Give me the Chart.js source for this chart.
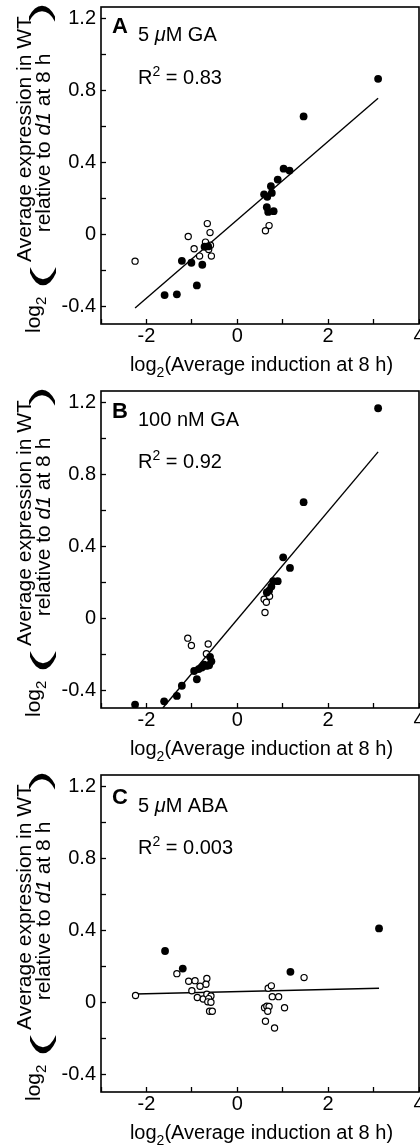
<!DOCTYPE html>
<html>
<head>
<meta charset="utf-8">
<title>log2 expression vs induction</title>
<script src="https://cdn.jsdelivr.net/npm/chart.js@4.4.1/dist/chart.umd.min.js"></script>
<style>
  html, body { margin: 0; padding: 0; background: #fff; overflow: hidden; }
  .panel { width: 420px; height: 384px; }
  canvas { display: block; }
</style>
</head>
<body>
<div class="panel"><canvas id="chart-a" width="420" height="384"></canvas></div>
<div class="panel"><canvas id="chart-b" width="420" height="384"></canvas></div>
<div class="panel"><canvas id="chart-c" width="420" height="384"></canvas></div>
<script>
// values: [log2 induction, log2 WT/d1]
const panelLetters = ['A', 'B', 'C'];
const treatments = ['5 μM GA', '100 nM GA', '5 μM ABA'];
const rSquared = ['0.83', '0.92', '0.003'];
const xTickLabels = ['-2', '0', '2', '4'];
const yTickLabels = ['-0.4', '0', '0.4', '0.8', '1.2'];

const filledA = [[3.10, 0.865], [1.46, 0.656], [1.02, 0.365], [1.15, 0.354], [0.89, 0.304], [0.74, 0.267],
  [0.76, 0.230], [0.59, 0.222], [0.66, 0.208], [0.65, 0.150], [0.68, 0.124], [0.80, 0.128],
  [-0.72, -0.070], [-0.64, -0.068], [-1.22, -0.148], [-1.01, -0.159], [-0.77, -0.170],
  [-0.89, -0.285], [-1.60, -0.339], [-1.33, -0.335]];
const openA = [[0.70, 0.048], [0.62, 0.019], [-0.66, 0.059], [-0.60, 0.009], [-1.08, -0.013], [-0.70, -0.044],
  [-0.59, -0.061], [-0.95, -0.081], [-0.63, -0.085], [-0.83, -0.122], [-0.57, -0.122], [-2.25, -0.150]];
const fitA = [[-2.25, -0.411], [3.10, 0.757]];

const filledB = [[3.10, 1.169], [1.46, 0.646], [1.01, 0.339], [1.16, 0.280], [0.89, 0.206], [0.79, 0.206],
  [0.75, 0.176], [0.70, 0.154], [0.65, 0.143], [-0.60, -0.215], [-0.57, -0.240], [-0.62, -0.262],
  [-0.68, -0.266], [-0.73, -0.258], [-0.78, -0.275], [-0.85, -0.283], [-0.95, -0.294], [-0.89, -0.340],
  [-1.22, -0.376], [-1.33, -0.433], [-1.61, -0.463], [-2.25, -0.481]];
const openB = [[0.59, 0.106], [0.64, 0.089], [0.71, 0.122], [0.61, 0.032], [-1.09, -0.111], [-1.01, -0.152],
  [-0.64, -0.144], [-0.68, -0.198]];
const fitB = [[-1.64, -0.50], [3.10, 0.926]];

const filledC = [[3.12, 0.411], [-1.59, 0.285], [-1.20, 0.187], [1.17, 0.169]];
const openC = [[-2.24, 0.037], [-1.33, 0.159], [-1.07, 0.117], [-0.93, 0.120], [-0.67, 0.132], [-0.69, 0.100],
  [-0.82, 0.089], [-1.00, 0.064], [-0.88, 0.026], [-0.75, 0.018], [-0.67, 0.044], [-0.58, 0.035],
  [-0.63, 0.020], [-0.65, 0.002], [-0.58, 0.000], [-0.61, -0.050], [-0.55, -0.050],
  [0.68, 0.078], [0.75, 0.091], [0.77, 0.031], [0.91, 0.031], [1.04, -0.031], [0.60, -0.031],
  [0.65, -0.022], [0.70, -0.024], [0.67, -0.050], [0.62, -0.106], [0.82, -0.144], [1.47, 0.137]];
const fitC = [[-2.24, 0.046], [3.12, 0.078]];

const FAMILY = '"Liberation Sans", Arial, Helvetica, sans-serif';
const font = (size, style) => `${style ? style + ' ' : ''}${size}px ${FAMILY}`;

Chart.defaults.font.family = FAMILY;
Chart.defaults.font.size = 20;
Chart.defaults.color = '#000';

const toPoints = arr => arr.map(([x, y]) => ({ x, y }));
const fmt = v => String(Math.round(v * 10) / 10);

// draw a list of [text, font, dy] runs left to right, returns the width
function drawRuns(ctx, runs, x, y) {
  let cx = x;
  runs.forEach(([text, f, dy]) => {
    ctx.font = f;
    ctx.fillText(text, cx, y + (dy || 0));
    cx += ctx.measureText(text).width;
  });
  return cx - x;
}

function runsWidth(ctx, runs) {
  let w = 0;
  runs.forEach(([text, f]) => { ctx.font = f; w += ctx.measureText(text).width; });
  return w;
}

// big bracket turned on its side and stretched along the title
function drawParen(ctx, ch, leftX, yFrom, yTo, size) {
  ctx.save();
  ctx.font = font(size);
  const m = ctx.measureText(ch);
  const glyphW = m.actualBoundingBoxLeft + m.actualBoundingBoxRight;
  const stretch = (yFrom - yTo) / glyphW;
  ctx.translate(leftX + m.actualBoundingBoxAscent, yFrom);
  ctx.rotate(-Math.PI / 2);
  ctx.scale(stretch, 1);
  ctx.textAlign = 'left';
  ctx.fillText(ch, m.actualBoundingBoxLeft, 0);
  ctx.restore();
}

function drawVertical(ctx, runs, baseX, centerY) {
  ctx.save();
  const w = runsWidth(ctx, runs);
  ctx.translate(baseX, centerY + w / 2);
  ctx.rotate(-Math.PI / 2);
  drawRuns(ctx, runs, 0, 0);
  ctx.restore();
}

const figureText = {
  id: 'figureText',
  afterDraw(chart, args, opts) {
    const ctx = chart.ctx;
    const a = chart.chartArea;
    ctx.save();
    ctx.fillStyle = '#000';
    ctx.strokeStyle = '#000';
    ctx.textBaseline = 'alphabetic';
    ctx.textAlign = 'left';

    // frame
    ctx.lineWidth = 1.6;
    ctx.strokeRect(a.left, a.top, a.right - a.left, a.bottom - a.top);

    // panel letter, treatment, R^2
    const dy = opts.dy || 0;
    ctx.font = font(22, 'bold');
    ctx.fillText(opts.letter, a.left + 11, a.top + 26 + dy);
    const parts = opts.treatment.split('μ');
    const tRuns = [[parts[0], font(20)]];
    if (parts.length > 1) tRuns.push(['μ', font(20, 'italic')], [parts[1], font(20)]);
    drawRuns(ctx, tRuns, a.left + 37, a.top + 34 + dy);
    drawRuns(ctx, [['R', font(20)], ['2', font(14), -8], [' = ' + opts.r2, font(20)]],
      a.left + 37, a.top + 76.5 + dy);

    // x title
    const xRuns = [['log', font(20)], ['2', font(14), 5.5], ['(Average induction at 8 h)', font(20)]];
    const xw = runsWidth(ctx, xRuns);
    drawRuns(ctx, xRuns, (a.left + a.right) / 2 - xw / 2 + 1.5, a.bottom + 47);

    // y title: log2( Average expression in WT / relative to d1 at 8 h )
    ctx.save();
    ctx.translate(a.left - 61.5, a.bottom + 9);
    ctx.rotate(-Math.PI / 2);
    drawRuns(ctx, [['log', font(21)], ['2', font(15), 6.5]], 0, 0);
    ctx.restore();
    drawParen(ctx, '(', a.left - 71, a.bottom - 37, a.bottom - 59, 28);
    drawParen(ctx, ')', a.left - 72, a.top + 15, a.top - 2, 28);
    drawVertical(ctx, [['Average expression in WT', font(21)]], a.left - 70, a.top + 132);
    drawVertical(ctx, [['relative to ', font(21)], ['d1', font(21, 'italic')], [' at 8 h', font(21)]],
      a.left - 51.5, a.top + 136);
    ctx.restore();
  }
};

function makePanel(canvasId, idx, filled, open, fit, dy) {
  return new Chart(document.getElementById(canvasId), {
    type: 'scatter',
    data: {
      datasets: [
        {
          data: toPoints(filled),
          backgroundColor: '#000',
          borderColor: '#000',
          borderWidth: 0,
          pointRadius: 3.9
        },
        {
          data: toPoints(open),
          backgroundColor: '#fff',
          borderColor: '#000',
          borderWidth: 1.2,
          pointRadius: 3.1
        },
        {
          data: toPoints(fit),
          showLine: true,
          borderColor: '#000',
          borderWidth: 1.4,
          pointRadius: 0,
          fill: false
        }
      ]
    },
    options: {
      responsive: false,
      animation: false,
      devicePixelRatio: 1,
      events: [],
      layout: { autoPadding: false, padding: { top: 7, right: 1, left: 0, bottom: 0 } },
      plugins: {
        legend: { display: false },
        tooltip: { enabled: false },
        figureText: {
          letter: panelLetters[idx],
          treatment: treatments[idx],
          r2: rSquared[idx],
          dy: dy
        }
      },
      scales: {
        x: {
          type: 'linear',
          position: 'bottom',
          min: -3,
          max: 4,
          border: { display: false },
          grid: { drawOnChartArea: false, drawTicks: true, tickLength: -5, tickWidth: 1.3, tickColor: '#000' },
          ticks: {
            stepSize: 1,
            includeBounds: false,
            padding: 5,
            maxRotation: 0,
            autoSkip: false,
            font: { size: 20 },
            callback: v => (xTickLabels.includes(fmt(v)) ? fmt(v) : '')
          },
          afterFit(scale) {
            scale.height = 60;
            scale.paddingLeft = 0;
            scale.paddingRight = 0;
          }
        },
        y: {
          type: 'linear',
          min: -0.5,
          max: 1.265,
          border: { display: false },
          grid: { drawOnChartArea: false, drawTicks: true, tickLength: -5, tickWidth: 1.3, tickColor: '#000' },
          ticks: {
            stepSize: 0.2,
            includeBounds: false,
            padding: 10,
            autoSkip: false,
            font: { size: 20 },
            callback: v => (yTickLabels.includes(fmt(v)) && Math.abs(v * 5 - Math.round(v * 5)) < 1e-6 ? fmt(v) : '')
          },
          afterFit(scale) {
            scale.width = 101;
            scale.paddingTop = 0;
            scale.paddingBottom = 0;
          }
        }
      }
    },
    plugins: [figureText]
  });
}

makePanel('chart-a', 0, filledA, openA, fitA, 0);
makePanel('chart-b', 1, filledB, openB, fitB, 0.7);
makePanel('chart-c', 2, filledC, openC, fitC, 2.5);
</script>
</body>
</html>
